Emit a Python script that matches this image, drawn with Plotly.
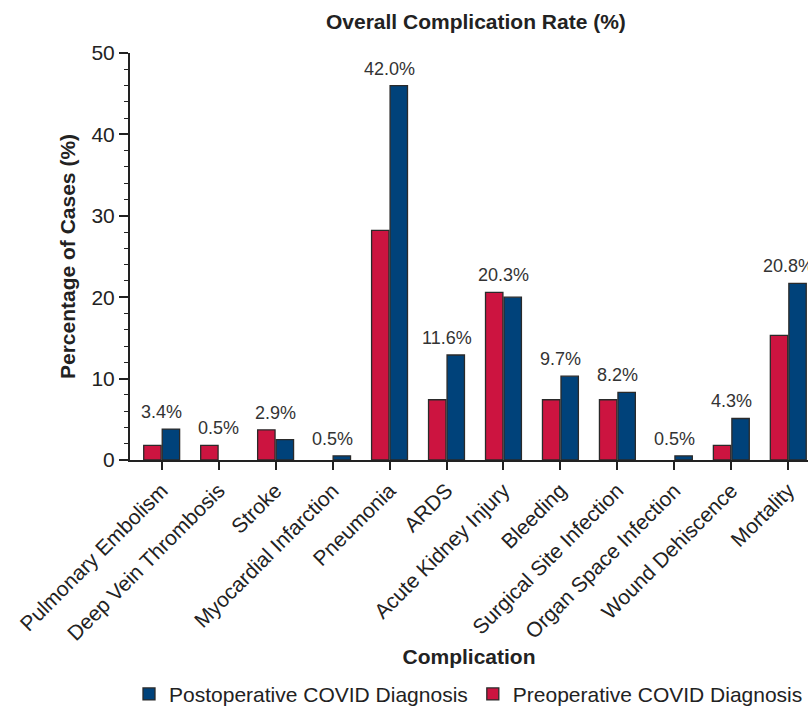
import plotly.graph_objects as go

categories = ["Pulmonary Embolism", "Deep Vein Thrombosis", "Stroke", "Myocardial Infarction",
              "Pneumonia", "ARDS", "Acute Kidney Injury", "Bleeding", "Surgical Site Infection",
              "Organ Space Infection", "Wound Dehiscence", "Mortality"]
preop = [1.8, 1.8, 3.7, 0.0, 28.2, 7.4, 20.6, 7.4, 7.4, 0.0, 1.8, 15.3]
postop = [3.8, 0.0, 2.5, 0.5, 46.0, 12.9, 20.0, 10.3, 8.3, 0.5, 5.1, 21.7]
overall = ["3.4%", "0.5%", "2.9%", "0.5%", "42.0%", "11.6%", "20.3%", "9.7%", "8.2%", "0.5%", "4.3%", "20.8%"]

RED = "#CC1440"
BLUE = "#00427A"
FONT = "Liberation Sans, Arial, sans-serif"
TXT = "#222222"


def outline(vals):
    return [0 if v == 0 else 1.3 for v in vals]


fig = go.Figure()
fig.add_trace(go.Bar(x=categories, y=preop, name="Preoperative COVID Diagnosis",
                     marker=dict(color=RED, line=dict(color="#2a2a2a", width=outline(preop)))))
fig.add_trace(go.Bar(x=categories, y=postop, name="Postoperative COVID Diagnosis",
                     marker=dict(color=BLUE, line=dict(color="#2a2a2a", width=outline(postop)))))

for c, a, b, t in zip(categories, preop, postop, overall):
    fig.add_annotation(x=c, y=max(a, b), text=t, showarrow=False, yanchor="bottom",
                       yshift=5, font=dict(family=FONT, size=18, color="#333333"))

fig.update_layout(
    width=808, height=707,
    margin=dict(l=130, r=0, t=53, b=247),
    plot_bgcolor="white", paper_bgcolor="white",
    font=dict(family=FONT, color=TXT),
    barmode="group", bargap=0.35, bargroupgap=0.06,
    showlegend=True,
    title=dict(text="<b>Overall Complication Rate (%)</b>", x=0.589, xanchor="center",
               y=0.969, yanchor="middle", font=dict(family=FONT, size=21, color=TXT)),
    legend=dict(orientation="h", traceorder="reversed", x=0.16, xanchor="left",
                y=0.018, yref="container", yanchor="middle",
                font=dict(family=FONT, size=21, color=TXT), itemwidth=30),
    xaxis=dict(range=[-0.556, 11.346], showline=True, linecolor="#222222", linewidth=2,
               ticks="outside", ticklen=8, tickwidth=1.5, tickcolor="#222222",
               tickangle=-45, tickfont=dict(family=FONT, size=21, color=TXT),
               title=dict(text="<b>Complication</b>", font=dict(family=FONT, size=21, color=TXT),
                          standoff=5)),
    yaxis=dict(range=[0, 50], showline=True, linecolor="#222222", linewidth=2,
               showgrid=False, zeroline=False,
               tickvals=[0, 10, 20, 30, 40, 50], ticks="outside", ticklen=9, tickwidth=1.5,
               tickcolor="#222222", tickfont=dict(family=FONT, size=21, color=TXT),
               minor=dict(dtick=2, ticks="outside", ticklen=4, tickwidth=1.2, tickcolor="#222222"),
               title=dict(text="<b>Percentage of Cases (%)</b>",
                          font=dict(family=FONT, size=21, color=TXT), standoff=10)),
)

fig.write_html("out.html", config={"displayModeBar": False},
               post_script="document.body.style.margin='0';")
